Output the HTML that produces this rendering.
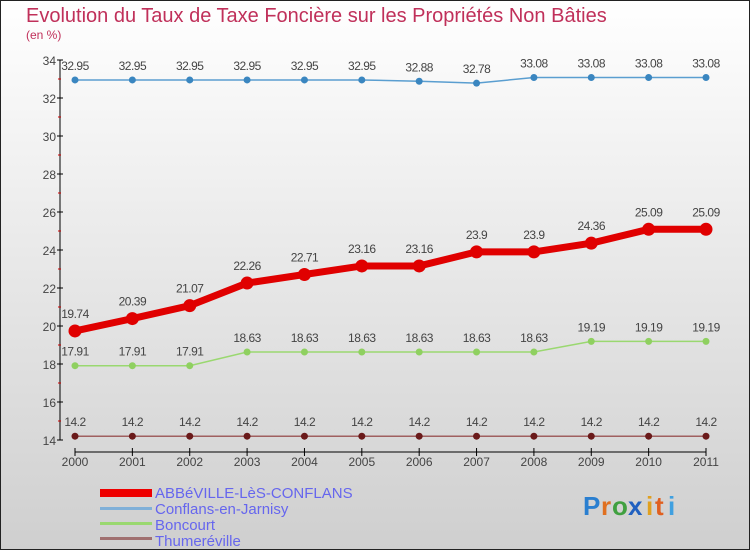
<!DOCTYPE html>
<html><head><meta charset="utf-8"><style>
body{margin:0;}
#c{width:750px;height:550px;position:relative;overflow:hidden;}
svg text{font-family:"Liberation Sans",sans-serif;}
</style></head><body>
<div id="c">
<svg id="s" width="750" height="550" xmlns="http://www.w3.org/2000/svg">
<defs><linearGradient id="bg" x1="0" y1="0" x2="0" y2="1"><stop offset="0" stop-color="#ffffff"/><stop offset="1" stop-color="#cfcfcf"/></linearGradient></defs>
<rect x="0.5" y="0.5" width="749" height="549" fill="url(#bg)" stroke="#222"/>
<text x="26" y="22" font-size="20" fill="#c0305a">Evolution du Taux de Taxe Foncière sur les Propriétés Non Bâties</text>
<text x="26" y="39" font-size="12" fill="#c0305a">(en %)</text>
<g id="axes"></g><g id="series"></g>
<g>
<rect x="100" y="489" width="52" height="8" fill="#e00"/>
<text x="155" y="498" font-size="15" fill="#6666ee">ABBéVILLE-LèS-CONFLANS</text>
<rect x="100" y="507" width="52" height="3" fill="#80b0d8"/>
<text x="155" y="514" font-size="15" fill="#6666ee">Conflans-en-Jarnisy</text>
<rect x="100" y="522" width="52" height="3" fill="#9ad870"/>
<text x="155" y="530" font-size="15" fill="#6666ee">Boncourt</text>
<rect x="100" y="537" width="52" height="3" fill="#a07070"/>
<text x="155" y="546" font-size="15" fill="#6666ee">Thumeréville</text>
</g>
<g font-size="26" font-weight="bold">
<text x="583" y="515" fill="#2a7fd0">P</text><text x="601" y="515" fill="#e07020">r</text><text x="612" y="515" fill="#40a040">o</text><text x="628" y="515" fill="#2060c0">x</text><text x="646" y="515" fill="#e0a020">i</text><text x="655" y="515" fill="#e06020">t</text><text x="668" y="515" fill="#40a0e0">i</text>
</g>
</svg></div>
<script>
const years=["2000","2001","2002","2003","2004","2005","2006","2007","2008","2009","2010","2011"];
const yTicks=[14,16,18,20,22,24,26,28,30,32,34];
const abbeville=[19.74,20.39,21.07,22.26,22.71,23.16,23.16,23.9,23.9,24.36,25.09,25.09];
const conflans=[32.95,32.95,32.95,32.95,32.95,32.95,32.88,32.78,33.08,33.08,33.08,33.08];
const boncourt=[17.91,17.91,17.91,18.63,18.63,18.63,18.63,18.63,18.63,19.19,19.19,19.19];
const thumereville=[14.2,14.2,14.2,14.2,14.2,14.2,14.2,14.2,14.2,14.2,14.2,14.2];
const NS="http://www.w3.org/2000/svg";
const X=i=>75+i*(706-75)/(years.length-1);
const Y=v=>440-(v-14)*19;
function mk(p,t,a){const e=document.createElementNS(NS,t);for(const k in a)e.setAttribute(k,a[k]);p.appendChild(e);return e;}
const ax=document.getElementById('axes');
const yl=mk(ax,'line',{x1:60,y1:Y(34),x2:60,y2:Y(14),stroke:'#000'});


for(let v=14;v<=34;v++){
  const major=v%2===0;
  mk(ax,'line',{x1:major?57:58,y1:Y(v),x2:major?63:61,y2:Y(v),stroke:major?'#000':'#c00'});
}
yTicks.forEach(v=>{const t=mk(ax,'text',{x:56,y:Y(v)+5,'text-anchor':'end','font-size':12,fill:'#444'});t.textContent=v;

});
const xl=mk(ax,'line',{x1:X(0),y1:452,x2:X(years.length-1),y2:452,stroke:'#000'});


years.forEach((y,i)=>{mk(ax,'line',{x1:X(i),y1:448,x2:X(i),y2:456,stroke:'#000'});
const t=mk(ax,'text',{x:X(i),y:466,'text-anchor':'middle','font-size':12,fill:'#444'});t.textContent=y;

});
const sg=document.getElementById('series');
function series(name,vals,color,w,r,dot,lab){
  const g=mk(sg,'g',{});
  
  
  mk(g,'polyline',{points:vals.map((v,i)=>X(i)+','+Y(v)).join(' '),fill:'none',stroke:color,'stroke-width':w});
  vals.forEach((v,i)=>{const c=mk(g,'circle',{cx:X(i),cy:Y(v),r:r,fill:dot});
    
    
    const t=mk(g,'text',{x:X(i),y:Y(v)-lab,'text-anchor':'middle','font-size':12,fill:'#444','letter-spacing':'-0.5'});t.textContent=String(v);
    
    });
}
series('thumereville',thumereville,'#a06060',1.5,3.5,'#6a1a1a',10);
series('boncourt',boncourt,'#9ad870',1.5,3.5,'#8fd060',10);
series('conflans',conflans,'#5a9ed0',1.5,3.5,'#3a86c0',10);
series('abbeville',abbeville,'#e00000',7,6.5,'#e00000',13);
</script>
</body></html>
